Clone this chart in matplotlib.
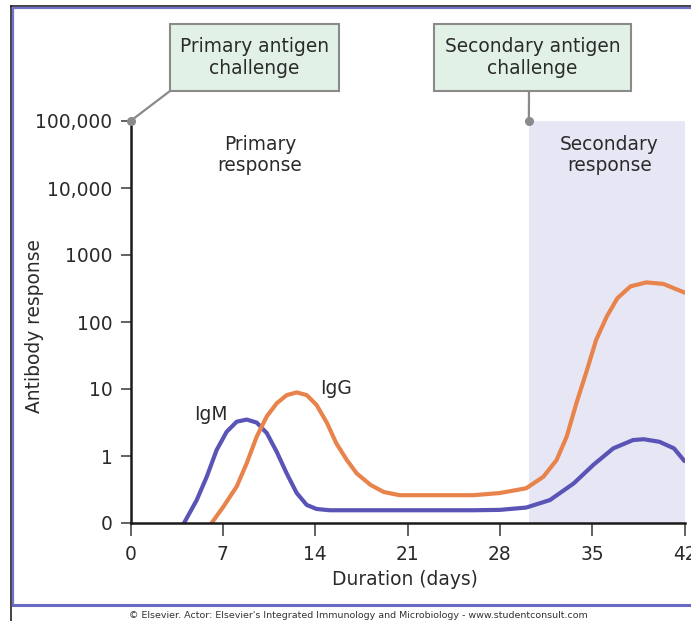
"""
Primary vs secondary antibody response (IgM / IgG) on a log axis
"""

import numpy as np
import matplotlib.pyplot as plt
from matplotlib.patches import Rectangle, ConnectionPatch
from matplotlib.lines import Line2D

# ---- data ----
igm_days = [4.06, 5.02, 5.78, 6.53, 7.29, 8.05, 8.81, 9.57, 10.33, 11.08, 11.84,
            12.6, 13.36, 14.1, 15.1, 20.4, 26.0, 28.0, 30.0, 31.8, 33.6, 35.1,
            36.6, 38.1, 38.9, 40.1, 41.2, 42.0]
igm_vals = [0.1, 0.22, 0.49, 1.23, 2.3, 3.25, 3.5, 3.15, 2.2, 1.16, 0.55,
            0.28, 0.186, 0.162, 0.155, 0.155, 0.155, 0.157, 0.17, 0.22, 0.39, 0.74,
            1.3, 1.73, 1.78, 1.63, 1.3, 0.84]

igg_days = [6.15, 7.04, 8.05, 8.81, 9.57, 10.33, 11.08, 11.84, 12.6, 13.36, 14.1,
            14.9, 15.6, 16.4, 17.15, 18.2, 19.2, 20.4, 26.0, 28.0, 30.0, 31.3,
            32.3, 33.07, 33.8, 34.6, 35.3, 36.1, 36.9, 37.9, 39.1, 40.4, 42.0]
igg_vals = [0.1, 0.175, 0.35, 0.78, 1.95, 3.9, 6.1, 8.1, 8.9, 8.1, 5.8,
            3.1, 1.55, 0.87, 0.55, 0.37, 0.29, 0.26, 0.26, 0.28, 0.33, 0.49,
            0.87, 1.95, 6.1, 19, 54, 120, 225, 340, 390, 370, 275]

primary_day = 0.0
secondary_day = 30.2
x_ticks = [0, 7, 14, 21, 28, 35, 42]
y_ticks = [0.1, 1, 10, 100, 1000, 10000, 100000]
y_tick_labels = ['0', '1', '10', '100', '1000', '10,000', '100,000']

IGM_COLOR = '#5a54b6'
IGG_COLOR = '#e9834c'
SHADE = '#e7e6f4'
BOX_FILL = '#e2f1e5'
GREY = '#8a8a8a'
TXT = '#2a2a2a'
FS = 13.4

plt.rcParams['font.family'] = 'DejaVu Sans'

W, H = 691, 621
fig = plt.figure(figsize=(W / 100, H / 100), dpi=100)
ax = fig.add_axes([130.5 / W, 1 - 523 / H, 554 / W, 402 / H])

ax.set_yscale('log')
ax.set_xlim(0, 42)
ax.set_ylim(0.1, 100000)

# secondary response shading
ax.axvspan(secondary_day, 42, color=SHADE, lw=0, zorder=0)

ax.plot(igm_days, igm_vals, color=IGM_COLOR, lw=3.0, solid_capstyle='round',
        solid_joinstyle='round', zorder=3)
ax.plot(igg_days, igg_vals, color=IGG_COLOR, lw=3.0, solid_capstyle='round',
        solid_joinstyle='round', zorder=3)

for s in ['top', 'right']:
    ax.spines[s].set_visible(False)
for s in ['left', 'bottom']:
    ax.spines[s].set_linewidth(1.8)
    ax.spines[s].set_color('#1a1a1a')
    ax.spines[s].set_zorder(4)

ax.set_xticks(x_ticks)
ax.set_xticklabels([str(t) for t in x_ticks])
ax.set_yticks(y_ticks)
ax.set_yticklabels(y_tick_labels)
ax.yaxis.set_minor_locator(plt.NullLocator())
ax.tick_params(axis='x', length=9.5, width=1.3, color='#555555', pad=6,
               labelsize=FS, labelcolor=TXT)
ax.tick_params(axis='y', length=7, width=1.3, color='#555555', pad=6,
               labelsize=FS, labelcolor=TXT)

ax.set_xlabel('Duration (days)', fontsize=FS, color=TXT)
ax.xaxis.set_label_coords(0.496, -0.117)
ax.set_ylabel('Antibody response', fontsize=FS, color=TXT)
ax.yaxis.set_label_coords(-0.156, 0.49)

# in-plot labels
ax.text(9.8, 10 ** 4.49, 'Primary\nresponse', ha='center', va='center',
        fontsize=FS, color=TXT, linespacing=1.15)
ax.text(36.3, 10 ** 4.49, 'Secondary\nresponse', ha='center', va='center',
        fontsize=FS, color=TXT, linespacing=1.15)
ax.text(6.1, 4.2, 'IgM', ha='center', va='center', fontsize=FS, color=TXT)
ax.text(15.6, 10.3, 'IgG', ha='center', va='center', fontsize=FS, color=TXT)


def challenge_box(x0, x1, y0, y1, label, anchor_px, day):
    """Green callout box in figure pixels tied to a point on the top of the axis"""
    rect = Rectangle((x0 / W, 1 - y1 / H), (x1 - x0) / W, (y1 - y0) / H,
                     transform=fig.transFigure, facecolor=BOX_FILL,
                     edgecolor=GREY, lw=1.5, zorder=5)
    fig.add_artist(rect)
    fig.text((x0 + x1) / 2 / W, 1 - (y0 + y1) / 2 / H, label, ha='center',
             va='center', fontsize=FS, color=TXT, linespacing=1.15, zorder=6)
    con = ConnectionPatch(xyA=(anchor_px[0], H - anchor_px[1]), coordsA='figure pixels',
                          xyB=(day, 100000), coordsB='data', axesB=ax,
                          color=GREY, lw=1.6, zorder=5)
    fig.add_artist(con)
    ax.plot([day], [100000], 'o', color=GREY, ms=5.5, clip_on=False, zorder=6)


challenge_box(170, 339, 24, 91, 'Primary antigen\nchallenge', (170, 91), primary_day)
challenge_box(434, 631, 24, 91, 'Secondary antigen\nchallenge', (529, 91), secondary_day)

# page frame
fig.add_artist(Line2D([11 / W, 11 / W], [0, 1 - 6 / H], transform=fig.transFigure,
                      color='#222222', lw=1.2))
fig.add_artist(Line2D([11 / W, 1], [1 - 6 / H, 1 - 6 / H], transform=fig.transFigure,
                      color='#222222', lw=1.2))
fig.add_artist(Line2D([13.5 / W, 13.5 / W, 1], [1 - 605 / H, 1 - 8 / H, 1 - 8 / H],
                      transform=fig.transFigure, color='#7272c8', lw=1.6))
fig.add_artist(Line2D([13.5 / W, 1], [1 - 605 / H, 1 - 605 / H],
                      transform=fig.transFigure, color='#6a6ac4', lw=2.2))

fig.text(358 / W, 1 - 615 / H,
         "\u00a9 Elsevier. Actor: Elsevier's Integrated Immunology and Microbiology - www.studentconsult.com",
         ha='center', va='center', fontsize=6.8, color='#333333')

fig.savefig('out.png', dpi=100)
